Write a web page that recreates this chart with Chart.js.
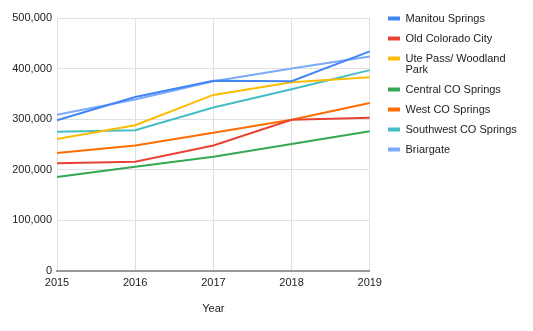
<!DOCTYPE html>
<html>
<head>
<meta charset="utf-8">
<script src="https://cdn.jsdelivr.net/npm/chart.js@4"></script>
<style>
  html, body { margin: 0; padding: 0; background: #fff; }
  #wrap { width: 533px; height: 331px; }
</style>
</head>
<body>
<div id="wrap"><canvas id="myChart" width="533" height="331"></canvas></div>
<script>
var years = ["2015", "2016", "2017", "2018", "2019"];
var seriesNames = ["Manitou Springs", "Old Colorado City", "Ute Pass/ Woodland Park",
    "Central CO Springs", "West CO Springs", "Southwest CO Springs", "Briargate"];
var manitou = [298000, 344000, 376000, 375000, 434000];
var oldColorado = [213000, 216000, 248000, 299000, 303000];
var utePass = [261000, 288000, 348000, 373000, 383000];
var central = [186000, 206000, 226000, 251000, 276000];
var westCo = [233000, 248000, 273000, 299000, 332000];
var southwest = [275000, 278000, 323000, 359000, 397000];
var briargate = [309000, 339000, 375000, 400000, 424000];
var yTicks = [0, 100000, 200000, 300000, 400000, 500000];

var barColors = ["#4285F4", "#EA4335", "#FBBC04", "#34A853", "#FF6D01", "#46BDC6", "#7BAAF7"];
var values = [manitou, oldColorado, utePass, central, westCo, southwest, briargate];

var datasets = [];
for (var i = 0; i < seriesNames.length; i++) {
    datasets.push({
        label: seriesNames[i],
        data: values[i],
        borderColor: barColors[i],
        backgroundColor: barColors[i],
        borderWidth: 2,
        pointRadius: 0,
        tension: 0
    });
}

// move the legend box to where the reference has it (top-aligned, not clipped)
var legendPlace = {
    id: "legendPlace",
    afterLayout: function (chart) {
        var lg = chart.legend;
        lg.top = 4;
        lg.left = 379;
        lg.right = 533;
        lg.width = 154;
    }
};

Chart.defaults.font.family = "'Liberation Sans', Arial, sans-serif";
Chart.defaults.font.size = 11;
Chart.defaults.color = "#444";

new Chart("myChart", {
    type: "line",
    data: { labels: years, datasets: datasets },
    plugins: [legendPlace],
    options: {
        responsive: false,
        animation: false,
        layout: { padding: { top: 18, right: 40, left: 0, bottom: 11 } },
        plugins: {
            tooltip: { enabled: false },
            legend: {
                position: "right",
                align: "start",
                labels: {
                    color: "#222",
                    font: { lineHeight: 1 },
                    boxWidth: 12,
                    boxHeight: 4,
                    padding: 9,
                    generateLabels: function (chart) {
                        var items = Chart.defaults.plugins.legend.labels.generateLabels(chart);
                        items.forEach(function (it) {
                            if (it.text === "Ute Pass/ Woodland Park") it.text = ["Ute Pass/ Woodland", "Park"];
                            it.lineWidth = 0;
                        });
                        return items;
                    }
                }
            }
        },
        scales: {
            x: {
                offset: false,
                grid: { color: "#e0e0e0", drawTicks: false },
                border: { color: "#999", width: 2 },
                ticks: { color: "#222", padding: 5, maxRotation: 0 },
                title: { display: true, text: "Year", color: "#222" },
                afterFit: function (s) { s.height = 49; }
            },
            y: {
                min: 0,
                max: 500000,
                afterBuildTicks: function (s) { s.ticks = yTicks.map(function (v) { return { value: v }; }); },
                grid: { color: "#e0e0e0", drawTicks: false },
                border: { display: false },
                ticks: { color: "#222", padding: 5 },
                afterFit: function (s) { s.width = 57; }
            }
        }
    }
});
</script>
</body>
</html>
